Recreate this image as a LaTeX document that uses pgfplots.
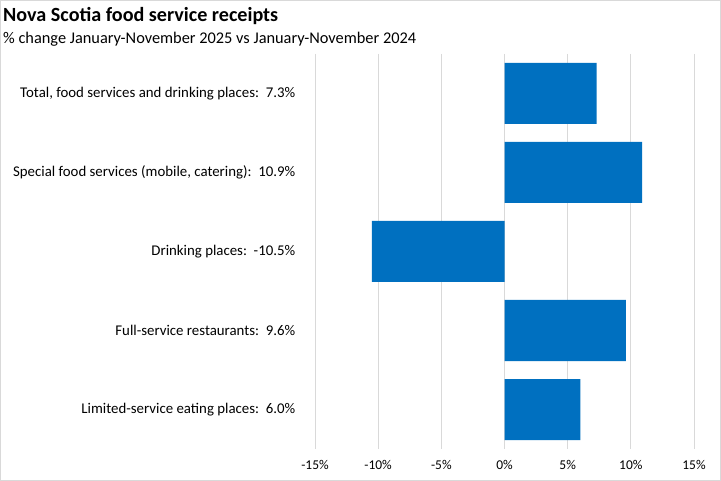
\documentclass[border=0pt]{standalone}
\usepackage{pgfplots}
\pgfplotsset{compat=1.18}
\usepackage{fontspec}
\setmainfont{Carlito}
\definecolor{barblue}{HTML}{0070C0}
\definecolor{gridgray}{HTML}{D9D9D9}
\begin{document}
\begin{tikzpicture}[x=1bp,y=1bp]
\draw[gridgray,line width=1bp,fill=white] (0.5,0.5) rectangle (720.5,480.5);
\node[anchor=base west,inner sep=0pt,font=\fontsize{20.2}{23}\selectfont\bfseries] at (3,459) {Nova Scotia food service receipts};
\node[anchor=base west,inner sep=0pt,font=\fontsize{16.4}{19}\selectfont] at (3,437.5) {\% change January-November 2025 vs January-November 2024};
\begin{axis}[
  at={(315bp,32bp)}, anchor=south west,
  scale only axis, width=379bp, height=395bp,
  xbar, bar width=61bp,
  xmin=-15, xmax=15,
  ymin=-0.5, ymax=4.5, y dir=reverse,
  axis line style={draw=none},
  xtick={-15,-10,...,15},
  xticklabel={\pgfmathprintnumber{\tick}\%},
  xtick style={draw=none}, ytick style={draw=none},
  xmajorgrids, major grid style={gridgray,line width=0.8bp},
  ytick={0,1,2,3,4},
  yticklabels={{Total, food services and drinking places:\ \ 7.3\%},
               {Special food services (mobile, catering):\ \ 10.9\%},
               {Drinking places:\ \ -10.5\%},
               {Full-service restaurants:\ \ 9.6\%},
               {Limited-service eating places:\ \ 6.0\%}},
  yticklabel style={font=\fontsize{14.9}{17}\selectfont, xshift=-12bp},
  xticklabel style={font=\fontsize{13.5}{16}\selectfont, yshift=-8bp},
  /pgf/number format/assume math mode=true,
]
\addplot[fill=barblue,draw=none] coordinates {(7.3,0) (10.9,1) (-10.5,2) (9.6,3) (6.0,4)};
\end{axis}
\end{tikzpicture}
\end{document}
